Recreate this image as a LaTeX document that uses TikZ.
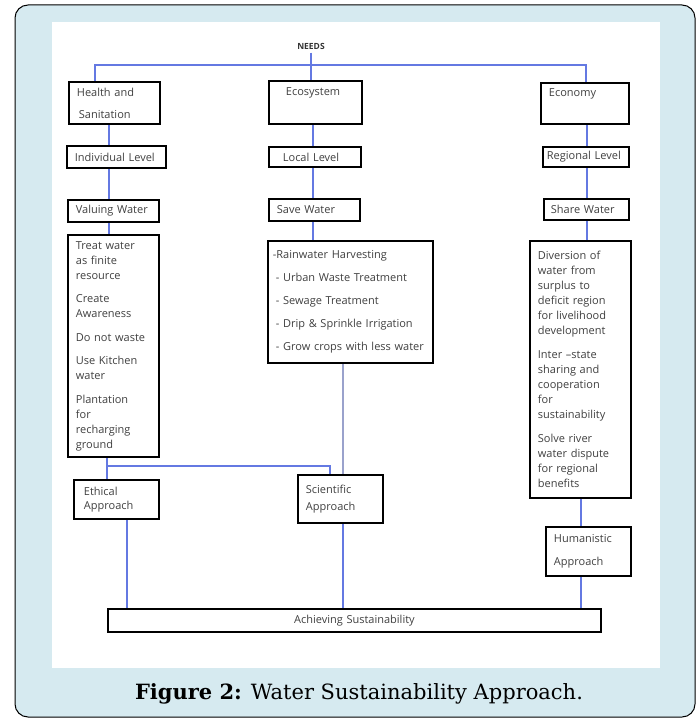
\documentclass[tikz,border=0pt]{standalone}
\usepackage{fontspec}
\setmainfont{Open Sans}
\newfontfamily\capfont{DejaVu Serif}
\definecolor{FrameBlue}{HTML}{D6EAF0}
\definecolor{LinkBlue}{HTML}{6479E2}
\definecolor{LinkGray}{HTML}{9AA2CC}
\pgfdeclarelayer{frame}
\pgfdeclarelayer{links}
\pgfsetlayers{frame,links,main}

\begin{document}
\begin{tikzpicture}[x=1pt, y=-1pt, font=\fontsize{11}{15}\selectfont,
Box/.style={draw=black, line width=1.8pt, anchor=north west, inner xsep=8pt, inner ysep=0pt, align=left, text=black!75},
Link/.style={LinkBlue, line width=1.3pt},
GrayLink/.style={LinkGray, line width=1.3pt}]
\useasboundingbox (0,0) rectangle (699,719);
\begin{pgfonlayer}{frame}
  \draw [fill=FrameBlue, line width=1pt, rounded corners=13pt] (15,5) rectangle (695,717);
  \fill [white] (52,22) rectangle (660,668);
\end{pgfonlayer}

\node [font=\bfseries\fontsize{8.5}{10}\selectfont, text=black!80] (needs) at (311,46) {NEEDS};

\foreach \name/\x/\y/\w/\h/\txt in {
  health/68/81/91/42/{Health and\\[7pt]\hspace{2pt}Sanitation},
  ecosystem/268/80/93/43/{\hspace{9pt}Ecosystem\\[7pt]\mbox{}},
  economy/540/82/88/41/{Economy\\[7pt]\mbox{}},
  indiv/66/145/99/22/{\mbox{Individual Level}},
  local/268/146/92/20/{\hspace{6pt}Local Level},
  regional/542/146/86/20/{\hspace{-4pt}\mbox{Regional Level}},
  valuing/67/199/91/22/{\mbox{Valuing Water}},
  save/268/198/91/22/{Save Water},
  share/543/198/85/21/{\hspace{-1pt}\mbox{Share Water}},
  treat/67/234/91/222/{Treat water\\as finite\\resource\\[8.5pt]Create\\Awareness\\[8.5pt]\mbox{Do not waste}\\[8.5pt]Use Kitchen\\water\\[8.5pt]Plantation\\for\\recharging\\ground},
  rain/267/240/165/122/{\hspace{-3pt}-Rainwater Harvesting\\[8pt]- Urban Waste Treatment\\[8pt]- Sewage Treatment\\[8pt]\mbox{- Drip \& Sprinkle Irrigation}\\[8pt]\mbox{- Grow crops with less water}},
  diversion/529/240/101/257/{Diversion of\\water from\\surplus to\\\mbox{deficit region}\\\mbox{for livelihood}\\development\\[9pt]Inter –state\\sharing and\\cooperation\\for\\sustainability\\[9pt]Solve river\\\mbox{water dispute}\\for regional\\benefits},
  ethical/73/479/85/39/{\hspace{2pt}Ethical\\[-1pt]\hspace{2pt}Approach},
  scientific/297/474/85/48/{Scientific\\[2pt]Approach},
  humanistic/545/526/85/49/{\mbox{Humanistic}\\[8pt]Approach},
  achieve/107/608/493/23/{\hspace*{\fill}Achieving Sustainability\hspace*{\fill}}%
} {
  \node [Box, text width={(\w-16)*1pt}, minimum height={\h*1pt}] (\name) at (\x,\y) {\txt};
}

\node (caption) at (359,694) {\capfont\fontsize{21}{24}\selectfont\textbf{Figure 2:} Water Sustainability Approach.};

\begin{pgfonlayer}{links}
\coordinate (busW) at (95,65);
\coordinate (busE) at (586,65);
\coordinate (colA) at (109,0);
\coordinate (colB) at (313,0);
\coordinate (colC) at (587,0);
\draw [Link] (health.north -| busW) -- (busW) -- (busE) -- (economy.north -| busE);
\draw [Link] (needs.south) -- (ecosystem.north -| needs.south);
\foreach \from/\to/\col in {health/indiv/colA, indiv/valuing/colA, valuing/treat/colA,
  ecosystem/local/colB, local/save/colB, save/rain/colB,
  economy/regional/colC, regional/share/colC, share/diversion/colC} {
  \draw [Link] (\from.south -| \col) -- (\to.north -| \col);
}
% lower part
\coordinate (splitA) at (107,466);
\coordinate (sciIn) at (330,466);
\coordinate (colMid) at (343,0);
\coordinate (colEth) at (127,0);
\coordinate (colHum) at (581,0);
\draw [Link] (treat.south -| splitA) -- (ethical.north -| splitA);
\draw [Link] (splitA) -- (sciIn) -- (scientific.north -| sciIn);
\draw [GrayLink] (rain.south -| colMid) -- (scientific.north -| colMid);
\draw [Link] (scientific.south -| colMid) -- (achieve.north -| colMid);
\draw [Link] (ethical.south -| colEth) -- (achieve.north -| colEth);
\draw [Link] (diversion.south -| colHum) -- (humanistic.north -| colHum);
\draw [Link] (humanistic.south -| colHum) -- (achieve.north -| colHum);
\end{pgfonlayer}
\end{tikzpicture}
\end{document}
